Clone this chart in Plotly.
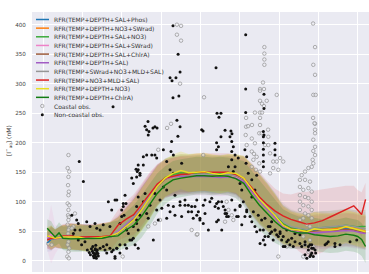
import plotly.graph_objects as go

# ---------------- data ----------------
LAT = [-78, -76, -74, -72, -70, -66, -62, -58, -54, -50, -46, -42, -38, -34, -30,
       -26, -22, -18, -14, -10, -6, -2, 2, 6, 10, 14, 18, 22, 26, 30,
       34, 38, 42, 46, 50, 54, 58, 62, 66, 70, 74, 78, 80, 82, 84]

RFR_PHOS = [30, 36, 38, 38, 39, 40, 39, 38, 38, 39, 40, 47, 58, 70, 88, 107, 127, 140, 145, 147,
            146, 147, 148, 146, 146, 147, 145, 138, 120, 104, 90, 76, 61, 54, 51, 49, 51, 52, 51, 52,
            54, 53, 51, 50, 48]
RFR_NO3_SWRAD = [40, 39, 38, 39, 40, 41, 40, 38, 39, 40, 42, 48, 59, 71, 89, 108, 128, 141, 146, 149,
                 148, 149, 150, 148, 147, 148, 146, 139, 121, 105, 91, 77, 62, 55, 53, 51, 54, 54, 53, 55,
                 57, 55, 53, 52, 50]
RFR_SAL_NO3 = [40, 39, 38, 40, 40, 41, 40, 39, 38, 39, 41, 48, 60, 70, 88, 108, 128, 141, 146, 149,
               148, 148, 149, 147, 147, 148, 146, 139, 122, 106, 92, 78, 63, 56, 54, 52, 55, 56, 56, 58,
               60, 58, 57, 58, 58]
RFR_SAL_SWRAD = [38, 45, 36, 40, 41, 41, 40, 39, 39, 40, 41, 50, 62, 74, 92, 112, 129, 138, 142, 144,
                 143, 143, 144, 143, 142, 143, 141, 135, 118, 102, 88, 74, 58, 51, 49, 47, 48, 49, 49, 50,
                 52, 51, 49, 48, 47]
RFR_SAL_CHLRA = [36, 38, 37, 39, 40, 40, 39, 38, 38, 39, 40, 47, 58, 70, 88, 107, 126, 138, 143, 145,
                 145, 146, 147, 145, 145, 146, 144, 137, 119, 103, 89, 75, 60, 53, 50, 48, 50, 51, 50, 51,
                 53, 52, 50, 49, 47]
RFR_SAL = [37, 40, 37, 39, 40, 40, 39, 38, 38, 39, 40, 49, 61, 73, 91, 110, 128, 139, 142, 143,
           142, 143, 143, 142, 141, 142, 140, 134, 117, 101, 87, 73, 57, 50, 48, 46, 47, 48, 48, 49,
           51, 50, 48, 47, 46]
RFR_SWRAD_NO3_MLD_SAL = [36, 37, 38, 39, 40, 41, 40, 39, 39, 40, 42, 52, 64, 75, 92, 111, 128, 139, 143, 145,
                         145, 146, 147, 146, 145, 146, 144, 138, 121, 106, 92, 80, 66, 58, 55, 53, 55, 56, 57, 58,
                         60, 58, 56, 55, 54]
RFR_NO3_MLD_SAL = [35, 38, 38, 39, 42, 42, 40, 40, 40, 41, 42, 60, 70, 78, 95, 113, 130, 140, 143, 146,
                   147, 150, 150, 150, 150, 150, 146, 140, 124, 108, 95, 84, 76, 70, 66, 62, 64, 68, 74, 80,
                   87, 93, 86, 78, 104]
RFR_DEPTH_NO3 = [42, 40, 38, 39, 40, 40, 40, 37, 38, 40, 41, 47, 58, 69, 86, 105, 126, 140, 148, 153,
                 149, 150, 151, 148, 146, 149, 148, 140, 121, 104, 90, 76, 60, 53, 52, 49, 54, 52, 52, 53,
                 58, 54, 52, 50, 49]
RFR_DEPTH_CHLRA = [55, 47, 40, 47, 38, 37, 37, 38, 38, 38, 41, 42, 52, 60, 75, 94, 114, 128, 137, 140,
                   142, 144, 144, 143, 144, 143, 139, 131, 111, 94, 80, 66, 55, 50, 47, 47, 44, 42, 41, 42,
                   45, 43, 41, 36, 24]

SPREAD = [15, 20, 15, 18, 20, 22, 22, 22, 22, 23, 24, 26, 30, 34, 36, 36, 34, 32, 32, 32,
          32, 32, 32, 32, 32, 32, 33, 38, 42, 42, 40, 36, 32, 30, 28, 28, 28, 28, 28, 28,
          28, 28, 28, 28, 28]
SPREAD_PINK = [20, 50, 25, 18, 20, 22, 22, 22, 22, 23, 24, 26, 30, 34, 36, 36, 34, 32, 32, 32,
               32, 32, 32, 32, 32, 32, 33, 38, 42, 42, 40, 36, 32, 30, 28, 28, 28, 28, 28, 28,
               28, 28, 28, 28, 28]
SPREAD_RED = [15, 20, 15, 18, 20, 22, 22, 22, 22, 23, 24, 26, 30, 34, 36, 36, 34, 32, 32, 32,
              32, 32, 32, 32, 32, 32, 33, 38, 42, 42, 40, 38, 38, 42, 50, 55, 55, 54, 50, 46,
              40, 34, 34, 38, 28]

COASTAL_LAT = [-12.0, -9.9, -12.0, -9.9, -10.4, 1.8, 23.2, -17.0, -15.0, 23.2, 57.3, 32.5, 32.5, 32.5, 32.5,
               58.3, 57.4, 58.3, 31.8, 30.3, 30.3, 32.3, 38.8, 57.4, 58.6, 30.3, 33.7, 31.3, 32.3, 27.7,
               30.3, 31.3, 30.3, 57.3, 58.3, 24.2, 26.2, 30.3, 34.4, 58.3, 58.0,
               26.1, 27.2, 28.6, 26.9, 29.9, 26.1, 28.2, 30.3, 27.7, 29.9, 34.5, 34.5, 35.4, 37.0, 38.8,
               40.5, 42.1, 35.4, 37.0, 39.6, 58.3, 57.4, 58.3,
               57.4, 58.3, 57.1, 57.4, 56.6, 54.9, 53.2, 51.5, 50.6, 53.2, 55.7, 50.6, 52.3, 54.9, 56.6,
               50.6, 53.2, 54.9, 56.6, 50.6, 52.3, 54.9, 56.6, 50.6, 53.2, 54.9, 52.3, 56.6, 50.6, 54.1,
               55.7, 51.5, 57.4, 52.3, 55.7, 53.2, 57.4, 54.9, 56.6,
               26.1, 31.1, 32.8, 43.9, 39.6, 52.3, -1.9,
               -21.5, 1.4, -20.6, -26.6, -23.2, -39.6, -4.5, -1.6, 13.3, 14.2, 15.9, 16.7, 12.5, 23.0, 23.5,
               -67.2, -67.6, -66.8, -67.2, -67.4, -67.0, -67.2, -67.6, -66.8, -67.2, -67.4, -67.0,
               -67.2, -67.6, -66.8, -67.2, -67.4, -67.0, -67.2, -67.6, -66.8, -67.2, -67.8, -67.0,
               -63.9, -64.7, -65.5, -77.5, -75.7]
COASTAL_VAL = [400, 398, 383, 373, 300, 277, 242, 225, 232, 227, 402, 362, 351, 341, 332,
               362, 332, 315, 302, 291, 288, 291, 281, 281, 281, 271, 271, 266, 262, 251,
               251, 251, 242, 242, 232, 228, 230, 230, 222, 222, 233,
               185, 181, 176, 171, 165, 159, 154, 151, 199, 216, 210, 196, 182, 168, 168,
               174, 168, 148, 157, 154, 216, 205, 193,
               186, 179, 171, 165, 159, 157, 151, 145, 137, 137, 134, 125, 120, 123, 117,
               111, 108, 106, 100, 100, 94, 92, 86, 86, 80, 77, 72, 72, 69, 61,
               58, 52, 52, 41, 35, 27, 24, 15, 10,
               207, 216, 196, 24, 7, 7, 44,
               188, 179, 69, 58, 63, 7, 52, 45, 100, 86, 77, 69, 66, 213, 196,
               179, 157, 151, 142, 128, 117, 111, 97, 94, 86, 77, 74,
               69, 61, 55, 52, 46, 41, 32, 27, 21, 15, 7, 4,
               80, 58, 55, 29, 27]

NONCOASTAL_LAT = [-14.0, -11.4, 7.9, -10.4, -15.5, -12.5, -14.5, -14.0, -11.0, -44.5, 23.0, 23.0, 8.4, 10.4, 9.4,
                  23.0, -26.7, -28.2, -24.2, -26.2, -12.0, -10.4, -11.5, 1.3, 12.5, 15.5, 16.0, 15.0, 10.4,
                  -23.2, -22.1,
                  -61.7, -59.6, -65.5, -63.0, -62.2, -57.9, -56.2, -53.7, -52.8, -51.1, -49.5, -61.3, -63.9,
                  -64.7, -65.0, -62.2, -60.5, -58.8, -57.6, -56.6, -54.6, -53.7, -52.8, -53.7, -52.0, -53.2,
                  -51.1, -49.5, -47.7, -46.1, -44.4, -42.6, -41.0, -43.5, -38.4, -37.6, -46.1, -45.2, -46.9,
                  -42.6, -41.0, -40.1, -39.3, -37.9, -36.7, -35.0, -34.2, -33.3, -32.5, -31.7, -32.5, -30.8,
                  -29.1, -28.2, -27.4, -26.6, -25.7, -24.0, -23.2, -22.3, -20.6, -18.9, -17.2, -16.4, -15.5,
                  -13.8, -13.0, -10.4, -9.6, -32.8, -32.2, -30.8, -27.4, -26.6, -22.3, -18.9, -17.2, -15.5,
                  -13.8, -13.8, -9.6, -29.1, -24.8, -31.7, -34.2, -35.0,
                  -54.0, -53.0, -54.5, -53.5, -52.5, -55.0, -54.2, -53.0, -52.2, -55.5, -56.0, -54.8, -53.3,
                  -14.7, -27.4, -23.2, -15.0, -29.1, -31.7, -30.8, -32.5, -43.5, -38.4, -39.3, -40.1, -38.9,
                  -35.0, -32.5, -31.7, -38.4, -35.9, -34.2, -33.3, -31.7, -37.6, -41.0, -42.6, -43.5, -48.6,
                  -47.7, -45.2, -21.5, -19.7, -17.2, -13.0, -10.4, -7.9, -6.2, -4.5, -3.7, -1.9, -1.1, -0.3,
                  1.4, 2.3, 4.0, 4.8, 7.4, 8.2, 9.1, 10.8, 11.6, 12.5, 13.3, 15.9, 18.4, 20.1, 21.0, 22.6, 23.5,
                  0.6, 8.2, 9.1, 8.2, 15.9, 16.7, 15.9, 17.6, 15.9, 19.2, 14.2, 22.6, 23.5, 23.2, 17.6, 16.7,
                  12.5, 24.3, 28.6, 26.1, 20.1, 21.0, 27.7,
                  -7.9, -6.2, -4.5, -1.9, -0.3, 1.4, -2.8, 2.3, 5.7, 8.2, 9.1, 10.8, 12.5, 13.3, 14.2, 9.1,
                  17.6, 19.2, 20.1, 21.8, 23.5, 25.2, 26.1, 27.7, 28.6, 30.3, 32.0, 32.8, 34.5, 35.4, 36.2,
                  37.9, 38.8, 40.5, 42.1, 43.0, 44.7, 46.4, 48.1, 50.6, 53.2, 55.7, 56.6, 58.3, 57.4, 56.2,
                  58.6, 63.4, 65.0, 68.4,
                  32.0, 32.0, 32.0, 32.0, 32.0, 32.0, 32.0, 37.9, 37.9, 37.9, 32.3, 32.3, 32.3,
                  26.1, 26.9, 29.4, 31.1, 32.0, 32.8, 30.3, 34.5, 35.4, 37.9, 39.6, 37.0, 41.3, 43.9, 45.5,
                  42.1, 47.2, 48.1, 50.6, 43.9, 40.5, 36.2, 32.8,
                  51.5, 53.2, 54.9, 56.6, 54.9, 56.6, 53.2, 55.7, 54.1, 57.4, 64.2, 68.4, 71.0, 76.1, 79.5]
NONCOASTAL_VAL = [398, 350, 327, 320, 310, 310, 305, 276, 279, 261, 383, 291, 250, 250, 243,
                  251, 236, 228, 225, 219, 238, 227, 211, 220, 221, 220, 215, 210, 210,
                  227, 225,
                  168, 134, 77, 69, 63, 66, 58, 63, 55, 52, 61, 52, 52,
                  46, 41, 35, 27, 32, 18, 14, 13, 18, 15, 10, 8, 7,
                  21, 24, 27, 21, 18, 21, 13, 4, 27, 52, 58, 86, 100,
                  103, 63, 75, 92, 97, 46, 35, 58, 77, 92, 108, 69, 77,
                  100, 114, 80, 72, 94, 35, 114, 86, 103, 125, 120, 94, 83,
                  92, 111, 94, 75, 155, 151, 145, 222, 213, 174, 188, 168, 154,
                  179, 148, 165, 176, 179, 162, 131, 140,
                  12, 12, 8, 20, 18, 16, 5, 4, 12, 20, 10, 24, 26,
                  202, 179, 179, 185, 162, 154, 148, 142, 103, 111, 97, 86, 77,
                  69, 63, 52, 58, 35, 38, 27, 21, 21, 27, 21, 7, 18,
                  13, 15, 69, 89, 72, 77, 100, 94, 83, 92, 72, 103, 83, 69,
                  94, 80, 52, 100, 92, 66, 100, 52, 92, 80, 75, 103, 75, 94, 61, 75, 86,
                  222, 200, 193, 188, 202, 193, 185, 179, 171, 174, 159, 188, 176, 165, 159, 151,
                  148, 148, 145, 137, 131, 120, 120,
                  103, 94, 83, 77, 72, 63, 92, 103, 106, 97, 89, 100, 86, 80, 75, 69,
                  86, 75, 92, 100, 83, 75, 66, 58, 49, 52, 35, 27, 41, 58, 49,
                  52, 44, 46, 41, 24, 35, 38, 32, 29, 32, 27, 21, 18, 7, 10,
                  13, 27, 32, 29,
                  219, 210, 200, 189, 179, 168, 159, 199, 188, 179, 282, 258, 213,
                  108, 83, 77, 69, 52, 41, 29, 58, 46, 52, 41, 35, 35, 32, 27,
                  24, 24, 46, 44, 52, 49, 66, 72,
                  24, 27, 24, 27, 18, 13, 10, 7, 4, 21, 29, 24, 27, 32, 35]

Y_TICKS = [0, 50, 100, 150, 200, 250, 300, 350, 400]
X_GRID = [-80, -60, -40, -20, 0, 20, 40, 60, 80]

# (label, mean, band half-width, colour, band opacity)
SERIES = [
    ("RFR(TEMP+DEPTH+SAL+Phos)", RFR_PHOS, SPREAD, (31, 119, 180), 0.08),
    ("RFR(TEMP+DEPTH+NO3+SWrad)", RFR_NO3_SWRAD, SPREAD, (255, 127, 14), 0.12),
    ("RFR(TEMP+DEPTH+SAL+NO3)", RFR_SAL_NO3, SPREAD, (60, 170, 60), 0.14),
    ("RFR(TEMP+DEPTH+SAL+SWrad)", RFR_SAL_SWRAD, SPREAD_PINK, (238, 130, 200), 0.12),
    ("RFR(TEMP+DEPTH+SAL+ChlrA)", RFR_SAL_CHLRA, SPREAD, (156, 91, 60), 0.12),
    ("RFR(TEMP+DEPTH+SAL)", RFR_SAL, SPREAD, (162, 92, 196), 0.08),
    ("RFR(TEMP+SWrad+NO3+MLD+SAL)", RFR_SWRAD_NO3_MLD_SAL, SPREAD, (150, 150, 150), 0.10),
    ("RFR(TEMP+NO3+MLD+SAL)", RFR_NO3_MLD_SAL, SPREAD_RED, (221, 34, 34), 0.12),
    ("RFR(TEMP+DEPTH+NO3)", RFR_DEPTH_NO3, SPREAD, (232, 224, 32), 0.22),
    ("RFR(TEMP+DEPTH+ChlrA)", RFR_DEPTH_CHLRA, SPREAD, (18, 124, 18), 0.16),
]

# ---------------- figure ----------------
fig = go.Figure()

# uncertainty bands
for name, vals, spr, c, a in SERIES:
    upper = [v + s for v, s in zip(vals, spr)]
    lower = [v - s for v, s in zip(vals, spr)]
    fig.add_trace(go.Scatter(
        x=LAT + LAT[::-1], y=upper + lower[::-1], mode="lines", fill="toself",
        fillcolor="rgba(%d,%d,%d,%.2f)" % (c + (a,)), line=dict(width=0), hoverinfo="skip",
        showlegend=False))

# observations
fig.add_trace(go.Scatter(
    x=COASTAL_LAT, y=COASTAL_VAL, mode="markers", name="Coastal obs.", showlegend=False,
    marker=dict(symbol="circle", size=3.5, color="rgba(240,240,245,0.5)",
                line=dict(color="#909090", width=0.7))))
fig.add_trace(go.Scatter(
    x=NONCOASTAL_LAT, y=NONCOASTAL_VAL, mode="markers", name="Non-coastal obs.", showlegend=False,
    marker=dict(symbol="circle", size=3, color="#121212", line=dict(width=0))))

# model lines
for name, vals, spr, c, a in SERIES:
    fig.add_trace(go.Scatter(
        x=LAT, y=vals, mode="lines", name=name, showlegend=False,
        line=dict(color="rgb(%d,%d,%d)" % c, width=1.4)))

# ---------------- manual legend (pixel layout -> paper coords) ----------------
L, T, W, H = 32, 12, 337, 260


def pxx(px):
    return (px - L) / W


def pxy(py):
    return (T + H - py) / H


shapes = []
annotations = []
labels = [s[0] for s in SERIES] + ["Coastal obs.", "Non-coastal obs."]
for i, lab in enumerate(labels):
    py = 19.5 + 8.65 * i
    if i < len(SERIES):
        c = SERIES[i][3]
        shapes.append(dict(type="line", xref="paper", yref="paper",
                           x0=pxx(36), x1=pxx(49), y0=pxy(py), y1=pxy(py),
                           line=dict(color="rgb(%d,%d,%d)" % c, width=1.5)))
    elif lab == "Coastal obs.":
        shapes.append(dict(type="circle", xref="paper", yref="paper",
                           x0=pxx(40.6), x1=pxx(44), y0=pxy(py + 1.7), y1=pxy(py - 1.7),
                           fillcolor="rgba(240,240,245,0.5)", line=dict(color="#909090", width=0.7)))
    else:
        shapes.append(dict(type="circle", xref="paper", yref="paper",
                           x0=pxx(40.8), x1=pxx(43.8), y0=pxy(py + 1.5), y1=pxy(py - 1.5),
                           fillcolor="#121212", line=dict(width=0)))
    annotations.append(dict(text=lab, xref="paper", yref="paper", x=pxx(52), y=pxy(py),
                            xanchor="left", yanchor="middle", showarrow=False,
                            font=dict(family="DejaVu Sans", size=6, color="#333333")))

annotations.append(dict(text="[I<sup>−</sup><sub>aq</sub>] (nM)", xref="paper", yref="paper",
                        x=pxx(8), y=pxy(141), textangle=-90, showarrow=False,
                        xanchor="center", yanchor="middle",
                        font=dict(family="DejaVu Sans", size=6, color="#333333")))

fig.update_layout(
    width=369, height=274,
    margin=dict(l=L, r=0, t=T, b=274 - T - H, pad=0),
    paper_bgcolor="white", plot_bgcolor="#eaeaf2",
    showlegend=False,
    shapes=shapes, annotations=annotations,
    font=dict(family="DejaVu Sans", size=6, color="#333333"),
)
fig.update_xaxes(range=[-85.75, 85.75], tickvals=X_GRID, showticklabels=False,
                 showgrid=True, gridcolor="white", gridwidth=1, zeroline=False,
                 showline=False, ticks="")
fig.update_yaxes(range=[-19.2, 421.5], tickvals=Y_TICKS, showgrid=True, gridcolor="white",
                 gridwidth=1, zeroline=False, showline=False, ticks="outside", ticklen=4,
                 tickcolor="rgba(0,0,0,0)", tickfont=dict(family="DejaVu Sans", size=5.6, color="#444444"))

fig.write_html("out.html")
